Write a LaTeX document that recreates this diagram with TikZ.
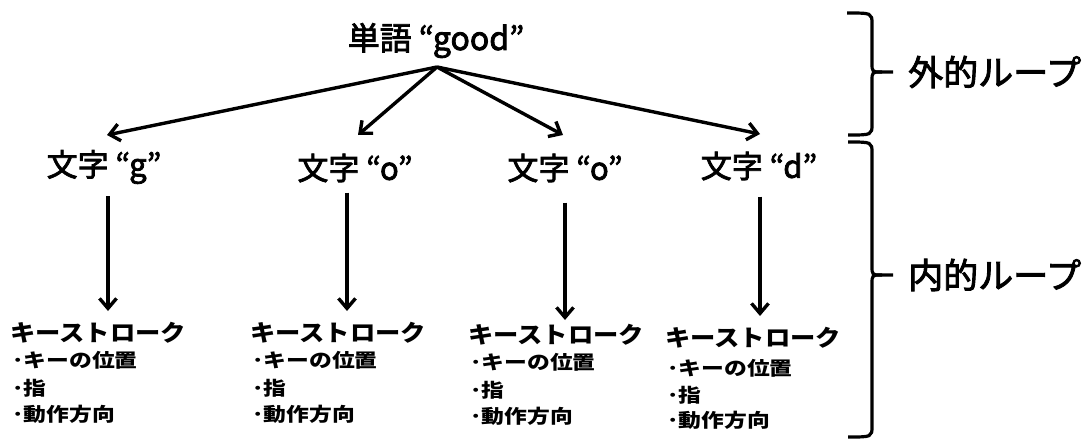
\documentclass[tikz,border=0pt]{standalone}
\usepackage{fontspec}
\setmainfont{Noto Sans CJK JP}
\newfontfamily\medfont[FakeBold=2.5]{Noto Sans CJK JP}
\usetikzlibrary{arrows.meta}
\begin{document}
\begin{tikzpicture}[x=1pt,y=-1pt,
  arr/.style={line width=3.4pt,-{Straight Barb[length=10pt,width=17pt,line width=3.4pt]}},
  brace/.style={line width=3.2pt},
  big/.style={inner sep=0pt,font=\medfont\fontsize{31}{36}\selectfont},
  side/.style={inner sep=0pt,anchor=west,font=\medfont\fontsize{35}{40}\selectfont},
  ktitle/.style={inner sep=0pt,anchor=west,font=\bfseries\fontsize{23}{26}\selectfont,xscale=1.1},
  kitem/.style={inner sep=0pt,anchor=west,font=\bfseries\fontsize{19}{22}\selectfont,xscale=1.2}]
\useasboundingbox (0,0) rectangle (1091,441);
% top word
\node[big,anchor=base,font=\medfont\fontsize{32}{38}\selectfont] (w) at (436,50) {単語 “good”};
\coordinate (o) at (437,67);
% characters
\node[big] (c1) at (104,167) {文字 “g”};
\node[big] (c2) at (355,168) {文字 “o”};
\node[big] (c3) at (565,168) {文字 “o”};
\node[big] (c4) at (759,166) {文字 “d”};
\coordinate (e1) at (107,135);
\coordinate (e2) at (358,135);
\coordinate (e3) at (563,135);
\coordinate (e4) at (760,134);
\draw[arr] ([yshift=-17pt]w.base -| o) -- (e1);
\draw[arr] ([yshift=-17pt]w.base -| o) -- (e2);
\draw[arr] ([yshift=-17pt]w.base -| o) -- (e3);
\draw[arr] ([yshift=-17pt]w.base -| o) -- (e4);
% keystroke blocks
\node[ktitle] (k1) at (10,333) {キーストローク};
\node[kitem] (k1a) at (12,360) {･キーの位置};
\node[kitem] (k1b) at (12,388) {･指};
\node[kitem] (k1c) at (12,414) {･動作方向};
\node[ktitle] (k2) at (250,333) {キーストローク};
\node[kitem] (k2a) at (252,360) {･キーの位置};
\node[kitem] (k2b) at (252,388) {･指};
\node[kitem] (k2c) at (252,414) {･動作方向};
\node[ktitle] (k3) at (468,335) {キーストローク};
\node[kitem] (k3a) at (470,362) {･キーの位置};
\node[kitem] (k3b) at (470,390) {･指};
\node[kitem] (k3c) at (470,416) {･動作方向};
\node[ktitle] (k4) at (665,338) {キーストローク};
\node[kitem] (k4a) at (667,368) {･キーの位置};
\node[kitem] (k4b) at (667,395) {･指};
\node[kitem] (k4c) at (667,420) {･動作方向};
% vertical arrows
\coordinate (v1) at (108,311);
\coordinate (v2) at (347,311);
\coordinate (v3) at (565,320);
\coordinate (v4) at (760,316);
\draw[arr] (v1 |- c1.south) ++(0,12) -- (v1);
\draw[arr] (v2 |- c2.south) ++(0,10) -- (v2);
\draw[arr] (v3 |- c3.south) ++(0,20) -- (v3);
\draw[arr] (v4 |- c4.south) ++(0,16) -- (v4);
% braces
\draw[brace] (847,13) .. controls (872,13) .. (872,24) -- (872,63)
  .. controls (872,72) .. (882,72) -- (893,72);
\draw[brace] (882,72) .. controls (872,72) .. (872,81) -- (872,124)
  .. controls (872,135) .. (848,135);
\draw[brace] (848,142) .. controls (872,142) .. (872,153) -- (872,266)
  .. controls (872,275) .. (882,275) -- (893,275);
\draw[brace] (882,275) .. controls (872,275) .. (872,284) -- (872,426)
  .. controls (872,437) .. (848,437);
\node[side] (outer) at (908,72) {外的ループ};
\node[side] (inner) at (908,275) {内的ループ};
\end{tikzpicture}
\end{document}
